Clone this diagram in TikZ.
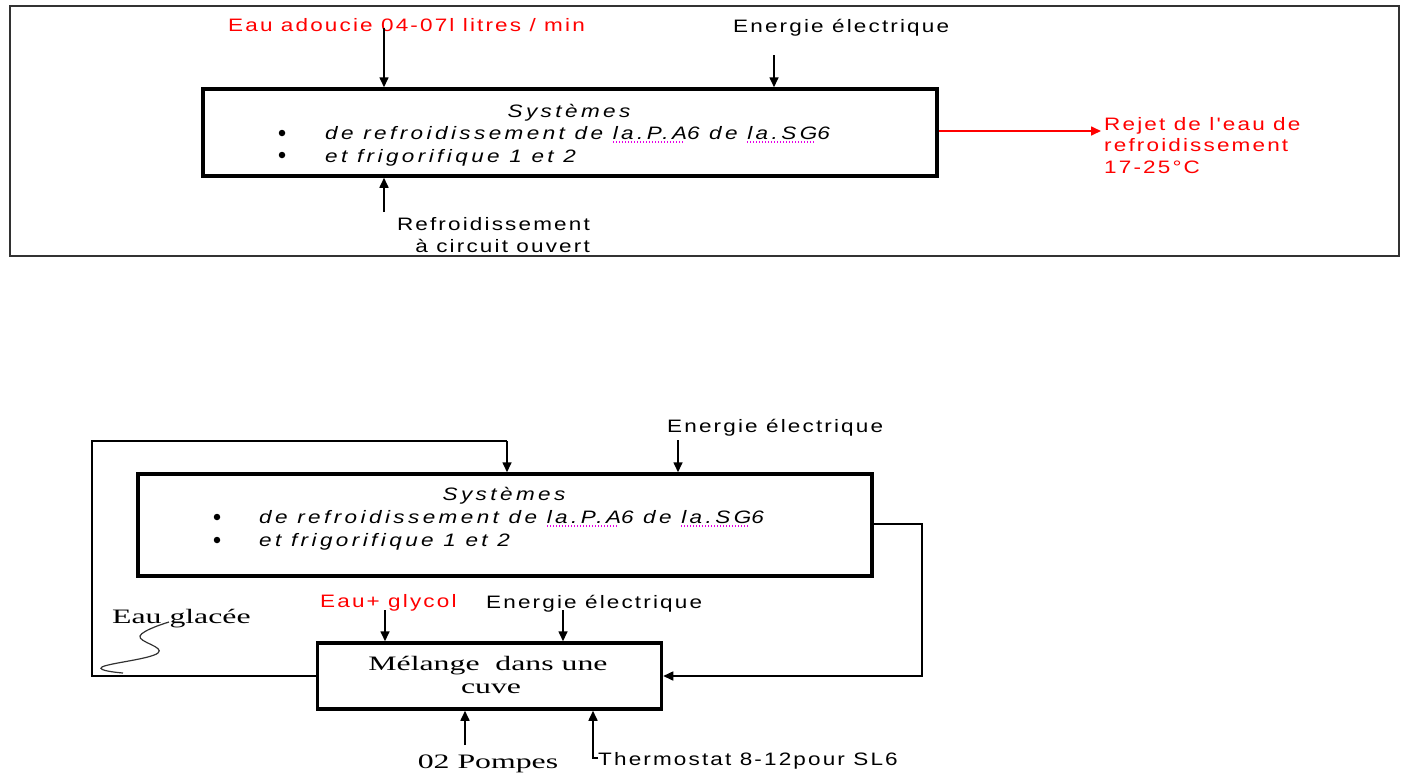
\documentclass[tikz,border=0pt]{standalone}
\usepackage{fontspec}
\usetikzlibrary{arrows.meta}
% wide sans and serif faces used throughout the flow sheets
\newfontfamily\sansw[FakeStretch=1.25,LetterSpace=12]{Liberation Sans}
\newfontfamily\sanswi[FakeStretch=1.25,LetterSpace=19]{Liberation Sans}
\newfontfamily\serifw[FakeStretch=1.55]{Liberation Serif}
\definecolor{redtxt}{RGB}{255,0,0}
\definecolor{framegray}{RGB}{50,50,50}
\definecolor{spellpink}{RGB}{230,0,230}
% dotted spell-check underline
\newsavebox\spellbox
\newcommand\spellmark[1]{\sbox\spellbox{#1}%
  \rlap{\textcolor{spellpink}{\leaders\hbox{\rule[-3.5pt]{1.1pt}{1.1pt}\kern1.9pt}\hskip\wd\spellbox}}%
  \usebox\spellbox}
\begin{document}
\begin{tikzpicture}[x=1pt,y=-1pt,
  lbl/.style={inner sep=0pt,font=\sansw\fontsize{18}{22}\selectfont},
  itl/.style={inner sep=0pt,font=\sanswi\itshape\fontsize{18}{22}\selectfont},
  srf/.style={inner sep=0pt,font=\serifw\fontsize{20.5}{25}\selectfont},
  redlbl/.style={lbl,text=redtxt},
  bul/.style={circle,fill,inner sep=0pt,minimum size=6.5pt},
  sysbox/.style={draw,line width=3.5pt,inner sep=0pt},
  arr/.style={line width=1.6pt,-{Triangle[length=10pt,width=9pt]}},
  redarr/.style={arr,draw=redtxt,fill=redtxt},
  wire/.style={line width=1.6pt},
]
\useasboundingbox (0,0) rectangle (1405,777);

% ---------- open-circuit cooling ----------
\draw[draw=framegray,line width=2pt] (10,6) rectangle (1399,256);

\node[sysbox,minimum width=734pt,minimum height=87pt] (sys1) at (570,132.5) {};
\node[itl,anchor=base] (sys1t) at (569,117) {Systèmes};
\node[bul] (sys1b1) at (282,133) {};
\node[itl,anchor=base west] (sys1l1) at (325,139) {de refroidissement de \spellmark{la.P.A}6 de \spellmark{la.SG}6};
\node[bul] (sys1b2) at (282,155) {};
\node[itl,anchor=base west] (sys1l2) at (325,162) {et frigorifique 1 et 2};

\node[redlbl,anchor=base west] (eau) at (228,31) {Eau adoucie 04-07l litres / min};
\coordinate (eauin) at (384,28);
\draw[arr] (eauin) -- (eauin |- sys1.north);

\node[lbl,anchor=base west] (elec1) at (733,32) {Energie électrique};
\coordinate (elec1in) at (774,55);
\draw[arr] (elec1in) -- (elec1in |- sys1.north);

\node[lbl,anchor=base east] (refr1) at (590,230) {Refroidissement};
\node[lbl,anchor=base east] (refr2) at (590,252) {à circuit ouvert};
\coordinate (refrin) at (384,212);
\draw[arr] (refrin) -- (refrin |- sys1.south);

\node[redlbl,anchor=base west] (rej1) at (1104,130) {Rejet de l'eau de};
\node[redlbl,anchor=base west] (rej2) at (1104,151) {refroidissement};
\node[redlbl,anchor=base west] (rej3) at (1104,173) {17-25°C};
\coordinate (rejout) at (1101,131);
\draw[redarr] (sys1.east |- rejout) -- (rejout);

% ---------- chilled-water loop ----------
\node[sysbox,minimum width=734pt,minimum height=102pt] (sys2) at (505,525) {};
\node[itl,anchor=base] (sys2t) at (504,500) {Systèmes};
\node[bul] (sys2b1) at (217,517) {};
\node[itl,anchor=base west] (sys2l1) at (259,523) {de refroidissement de \spellmark{la.P.A}6 de \spellmark{la.SG}6};
\node[bul] (sys2b2) at (217,540) {};
\node[itl,anchor=base west] (sys2l2) at (259,546) {et frigorifique 1 et 2};

\node[lbl,anchor=base west] (elec2) at (667,432) {Energie électrique};
\coordinate (elec2in) at (678,440);
\draw[arr] (elec2in) -- (elec2in |- sys2.north);

\node[sysbox,minimum width=344pt,minimum height=66pt] (cuve) at (489.5,676) {};
\node[srf,anchor=base] (cuvet1) at (488,670) {Mélange\ \ dans une};
\node[srf,anchor=base] (cuvet2) at (491,693) {cuve};

\node[redlbl,anchor=base west] (glyc) at (320,607) {Eau+ glycol};
\coordinate (glycin) at (385,610);
\draw[arr] (glycin) -- (glycin |- cuve.north);

\node[lbl,anchor=base west] (elec3) at (486,608) {Energie électrique};
\coordinate (elec3in) at (563,610);
\draw[arr] (elec3in) -- (elec3in |- cuve.north);

% return from the systems back into the tank
\coordinate (retx) at (922,524);
\draw[arr] (sys2.east |- retx) -- (retx) -- (retx |- cuve.east) -- (cuve.east);

% chilled water sent from the tank up to the systems
\coordinate (loopl) at (92,441);
\coordinate (sys2in) at (507,441);
\draw[wire] (cuve.west) -- (cuve.west -| loopl) -- (loopl) -- (sys2in);
\draw[arr] (sys2in) -- (sys2in |- sys2.north);

\node[srf,anchor=base west] (glacee) at (112,623) {Eau glacée};
\draw[line width=1.2pt,framegray] plot[smooth,tension=0.7] coordinates
  {(169,622) (140,636) (158,653) (102,667) (123,673)};

\node[srf,anchor=base] (pompes) at (488,768) {02 Pompes};
\coordinate (pompin) at (465,745);
\draw[arr] (pompin) -- (pompin |- cuve.south);

\node[lbl,anchor=base west] (thermo) at (598,765) {Thermostat 8-12pour SL6};
\coordinate (thermin) at (593,758);
\draw[arr] (thermo.base west |- thermin) -- (thermin) -- (thermin |- cuve.south);
\end{tikzpicture}
\end{document}
